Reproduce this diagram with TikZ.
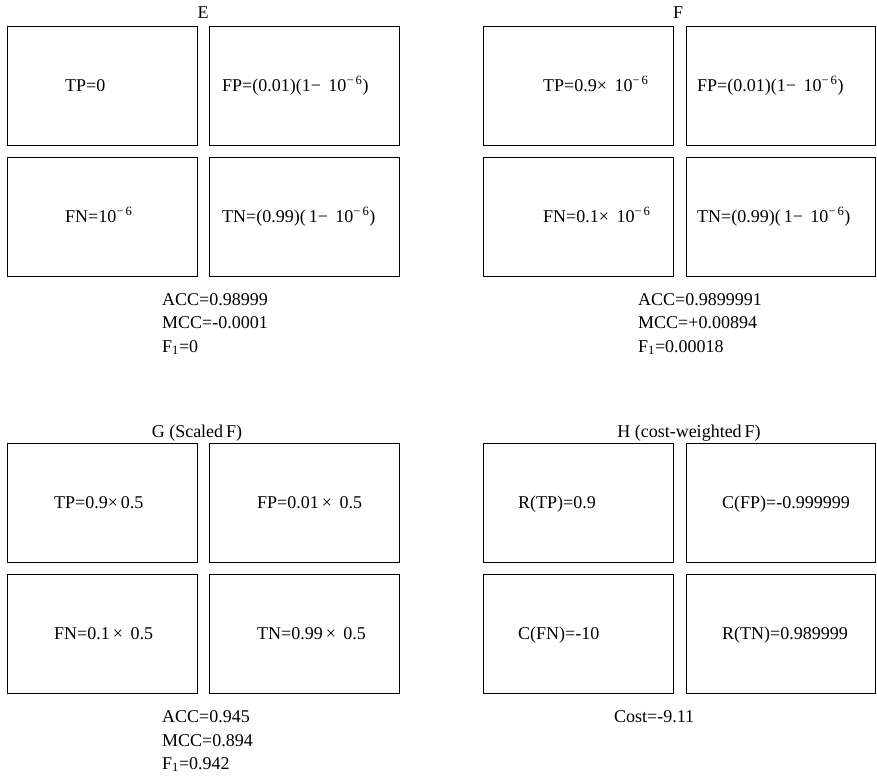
\documentclass[tikz,border=0pt]{standalone}
\usepackage{fontspec}
\setmainfont{Liberation Serif}
\begin{document}
\begin{tikzpicture}[x=1pt,y=-1pt,
  cell/.style={draw,line width=1.2pt,minimum width=190pt,minimum height=119pt,inner sep=0pt,anchor=north west},
  txt/.style={anchor=base west,inner sep=0pt,font=\fontsize{18}{22}\selectfont},
  ttl/.style={anchor=base,inner sep=0pt,font=\fontsize{18}{22}\selectfont}]
\useasboundingbox (0,0) rectangle (877,776);
% Panel E
\node[ttl] (Et) at (203,19) {E};
\node[cell] (E1) at (7,26) {};
\node[cell] (E2) at (209,26) {};
\node[cell] (E3) at (7,157) {};
\node[cell] (E4) at (209,157) {};
\node[txt] (Ea) at (65,91) {TP=0};
\node[txt] (Eb) at (222,91) {FP=(0.01)(1−\, 10\textsuperscript{−\,6})};
\node[txt] (Ec) at (65,222) {FN=10\textsuperscript{−\,6}};
\node[txt] (Ed) at (222,222) {TN=(0.99)(\,1−\, 10\textsuperscript{−\,6})};
\node[txt] (Es1) at (162,305) {ACC=0.98999};
\node[txt] (Es2) at (162,328) {MCC=-0.0001};
\node[txt] (Es3) at (162,352) {F\textsubscript{1}=0};
% Panel F
\node[ttl] (Ft) at (678,19) {F};
\node[cell] (F1) at (483,26) {};
\node[cell,minimum width=189pt] (F2) at (686,26) {};
\node[cell] (F3) at (483,157) {};
\node[cell,minimum width=189pt] (F4) at (686,157) {};
\node[txt] (Fa) at (543,91) {TP=0.9×\, 10\textsuperscript{−\,6}};
\node[txt] (Fb) at (697,91) {FP=(0.01)(1−\, 10\textsuperscript{−\,6})};
\node[txt] (Fc) at (543,222) {FN=0.1×\, 10\textsuperscript{−\,6}};
\node[txt] (Fd) at (697,222) {TN=(0.99)(\,1−\, 10\textsuperscript{−\,6})};
\node[txt] (Fs1) at (638,305) {ACC=0.9899991};
\node[txt] (Fs2) at (638,328) {MCC=+0.00894};
\node[txt] (Fs3) at (638,352) {F\textsubscript{1}=0.00018};
% Panel G
\node[ttl] (Gt) at (197,437) {G (Scaled\,F)};
\node[cell] (G1) at (7,443) {};
\node[cell] (G2) at (209,443) {};
\node[cell] (G3) at (7,574) {};
\node[cell] (G4) at (209,574) {};
\node[txt] (Ga) at (54,508) {TP=0.9×\,0.5};
\node[txt] (Gb) at (257,508) {FP=0.01\,×\, 0.5};
\node[txt] (Gc) at (54,639) {FN=0.1\,×\, 0.5};
\node[txt] (Gd) at (257,639) {TN=0.99\,×\, 0.5};
\node[txt] (Gs1) at (162,722) {ACC=0.945};
\node[txt] (Gs2) at (162,746) {MCC=0.894};
\node[txt] (Gs3) at (162,769) {F\textsubscript{1}=0.942};
% Panel H
\node[ttl] (Ht) at (689,437) {H (cost-weighted\,F)};
\node[cell] (H1) at (483,443) {};
\node[cell,minimum width=189pt] (H2) at (686,443) {};
\node[cell] (H3) at (483,574) {};
\node[cell,minimum width=189pt] (H4) at (686,574) {};
\node[txt] (Ha) at (518,508) {R(TP)=0.9};
\node[txt] (Hb) at (722,508) {C(FP)=-0.999999};
\node[txt] (Hc) at (518,639) {C(FN)=-10};
\node[txt] (Hd) at (722,639) {R(TN)=0.989999};
\node[txt] (Hs1) at (614,722) {Cost=-9.11};
\end{tikzpicture}
\end{document}
